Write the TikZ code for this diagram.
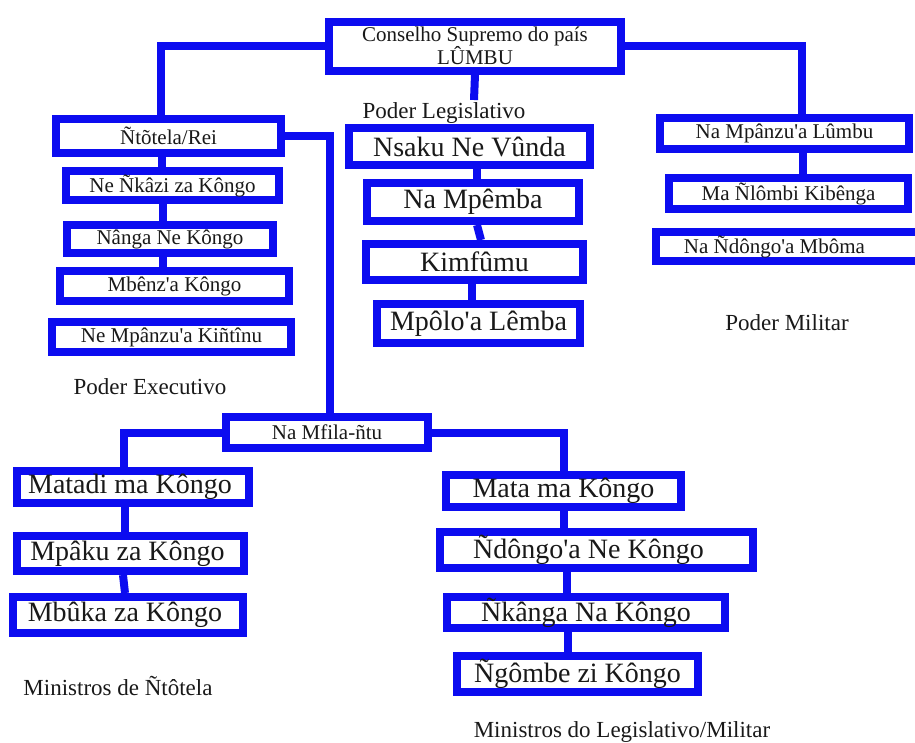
\documentclass[tikz,border=0pt]{standalone}
\usepackage{fontspec}
\setmainfont{Liberation Serif}
\definecolor{kblue}{RGB}{12,12,240}
\definecolor{ktext}{RGB}{25,25,25}
\newcommand{\ap}{\textquotesingle}
\begin{document}
\begin{tikzpicture}[x=1pt,y=-1pt,
  box/.style={draw=kblue, line width=8pt, inner sep=0pt, text=ktext, align=center},
  sbox/.style={box, font=\fontsize{21pt}{22pt}\selectfont},
  bbox/.style={box, font=\fontsize{28pt}{30pt}\selectfont},
  conn/.style={draw=kblue, line width=8pt},
  lab/.style={text=ktext, inner sep=0pt, font=\fontsize{23pt}{25pt}\selectfont},
  wh/.style 2 args={minimum width=#1pt, minimum height=#2pt}]
\useasboundingbox (0,0) rectangle (915,742);
\fill[white] (0,0) rectangle (915,742);

% top
\node[sbox, wh={292}{49}] (top) at (475,46) {Conselho Supremo do país\\LÛMBU};
\coordinate (legstub) at (474,100);

% executive column
\node[sbox, wh={225}{34}] (rei) at (168.5,136) {Ñtõtela/Rei};
\node[sbox, wh={213}{29}] (nkazi) at (172.5,185.5) {Ne Ñkâzi za Kôngo};
\node[sbox, wh={206}{28}] (nanga) at (170,239) {Nânga Ne Kôngo};
\node[sbox, wh={229}{30}] (mbenz) at (174.5,286) {Mbênz\ap a Kôngo};
\node[sbox, wh={239}{30}] (kintinu) at (171.5,337) {Ne Mpânzu\ap a Kiñtînu};
\node[lab] (pexec) at (150,387) {Poder Executivo};

% legislative column
\node[lab] (pleg) at (444,113) {Poder Legislativo};
\node[bbox, wh={241}{37}] (nsaku) at (469.5,146.5) {Nsaku Ne Vûnda};
\node[bbox, wh={212}{38}] (mpemba) at (473,202) {Na Mpêmba};
\node[bbox, wh={217}{36}] (kimfumu) at (474.5,262) {Kimfûmu};
\node[bbox, wh={203}{39}] (mpolo) at (478.5,323.5) {Mpôlo\ap a Lêmba};

% military column
\node[sbox, wh={249}{31}] (lumbu) at (784.5,133.5) {Na Mpânzu\ap a Lûmbu};
\node[sbox, wh={239}{31}] (nlombi) at (788.5,193.5) {Ma Ñlômbi Kibênga};
\node[sbox, wh={265}{29}] (mboma) at (788.5,246.5) {\hspace*{-28pt}Na Ñdôngo\ap a Mbôma};
\node[lab] (pmil) at (787,323) {Poder Militar};

% Na Mfila-ntu
\node[sbox, wh={202}{31}] (mfila) at (327,432.5) {Na Mfila-ñtu};

% left ministers
\node[bbox, wh={232}{32}] (matadi) at (133,487) {Matadi ma Kôngo\hspace*{6pt}};
\node[bbox, wh={227}{35}] (mpaku) at (130.5,553.5) {Mpâku za Kôngo\hspace*{6pt}};
\node[bbox, wh={230}{36}] (mbuka) at (128,615) {Mbûka za Kôngo\hspace*{6pt}};
\node[lab] (mintot) at (118,686) {Ministros de Ñtôtela};

% right ministers
\node[bbox, wh={235}{32}] (mata) at (563.5,491) {Mata ma Kôngo};
\node[bbox, wh={313}{36}] (ndongo) at (596.5,550) {Ñdôngo\ap a Ne Kôngo\hspace*{16pt}};
\node[bbox, wh={278}{31}] (nkanga) at (586,612.5) {Ñkânga Na Kôngo};
\node[bbox, wh={241}{36}] (ngombe) at (577.5,674) {Ñgômbe zi Kôngo};
\node[lab] (minleg) at (622,732) {Ministros do Legislativo/Militar};

% connectors
\draw[conn] (top.west) -| ([xshift=-7.5pt]rei.north);
\draw[conn] (top.east) -| ([xshift=17pt]lumbu.north);
\draw[conn] (top.south) -- (legstub);
\draw[conn] (rei.east) -| ([xshift=3pt]mfila.north);

\draw[conn] ([xshift=-6.5pt]rei.south) -- ([xshift=-10.5pt]nkazi.north);
\draw[conn] ([xshift=-9.5pt]nkazi.south) -- ([xshift=-7pt]nanga.north);
\draw[conn] ([xshift=-7pt]nanga.south) -- ([xshift=-11.5pt]mbenz.north);

\draw[conn] ([xshift=7.5pt]nsaku.south) -- ([xshift=4pt]mpemba.north);
\draw[conn] ([xshift=4pt]mpemba.south) -- ([xshift=6.5pt]kimfumu.north);
\draw[conn] ([xshift=-2.5pt]kimfumu.south) -- ([xshift=-6.5pt]mpolo.north);

\draw[conn] ([xshift=18.5pt]lumbu.south) -- ([xshift=14.5pt]nlombi.north);

\draw[conn] (mfila.west) -| ([xshift=-9pt]matadi.north);
\draw[conn] (mfila.east) -| (mata.north);
\draw[conn] ([xshift=-8pt]matadi.south) -- ([xshift=-5.5pt]mpaku.north);
\draw[conn] ([xshift=-7.5pt]mpaku.south) -- ([xshift=-3pt]mbuka.north);

\draw[conn] ([xshift=0.5pt]mata.south) -- ([xshift=-32.5pt]ndongo.north);
\draw[conn] ([xshift=-29.5pt]ndongo.south) -- ([xshift=-19pt]nkanga.north);
\draw[conn] ([xshift=-18pt]nkanga.south) -- ([xshift=-9.5pt]ngombe.north);
\end{tikzpicture}
\end{document}
